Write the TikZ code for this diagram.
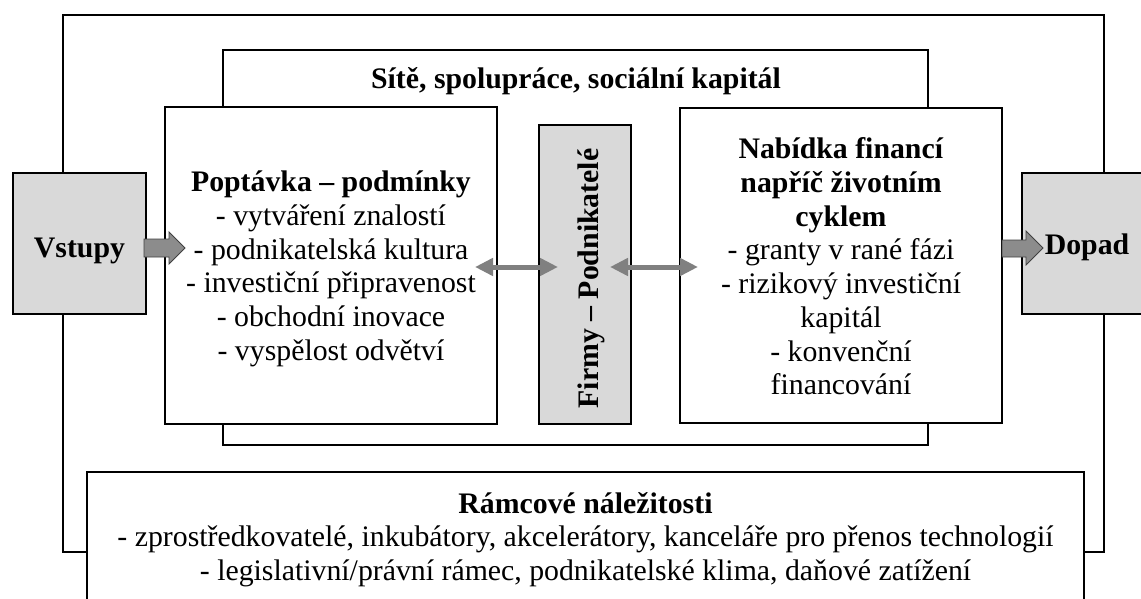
\documentclass[tikz,border=0pt]{standalone}
\usepackage{fontspec}
\setmainfont{Liberation Serif}
\usetikzlibrary{arrows.meta,calc}
\definecolor{boxgray}{HTML}{D9D9D9}
\definecolor{arrgray}{HTML}{8C8C8C}
\definecolor{dblgray}{HTML}{808080}
\begin{document}
\begin{tikzpicture}[x=1pt,y=-1pt,
  frame/.style={draw=black,line width=2.4pt,inner sep=0pt,outer sep=0pt,anchor=north west},
  wbox/.style={frame,fill=white},
  gbox/.style={frame,fill=boxgray},
  txt/.style={font=\fontsize{29.8}{33.7}\selectfont,align=center,inner sep=0pt},
  btxt/.style={font=\fontsize{29.8}{33.7}\selectfont\bfseries,align=center,inner sep=0pt},
  blockarrow/.style={fill=arrgray,draw=black!75,line width=0.8pt,line join=miter},
  dbl/.style={{Triangle[length=18pt,width=17pt]}-{Triangle[length=18pt,width=17pt]},line width=5pt,draw=dblgray}]
\useasboundingbox (0,0) rectangle (1141,599);
% frames
\node[frame,minimum width=1041pt,minimum height=537pt] (outer) at (63,15) {};
\node[frame,minimum width=705pt,minimum height=395pt] (site) at (223,50) {};
\node[wbox,minimum width=332pt,minimum height=317pt] (pop) at (165,107) {};
\node[gbox,minimum width=92pt,minimum height=299pt] (fir) at (539,125) {};
\node[wbox,minimum width=322pt,minimum height=315pt] (nab) at (680,108) {};
\node[wbox,minimum width=997pt,minimum height=160pt] (ram) at (87,472) {};
\node[gbox,minimum width=133pt,minimum height=141pt] (vst) at (13,173) {};
\node[gbox,minimum width=150pt,minimum height=141pt] (dop) at (1022,173) {};
% texts
\node[btxt] (sitt) at (576,81) {Sítě, spolupráce, sociální kapitál};
\node[txt] (popt) at (331,269) {\textbf{Poptávka – podmínky}\\- vytváření znalostí\\- podnikatelská kultura\\- investiční připravenost\\- obchodní inovace\\- vyspělost odvětví};
\node[txt] (nabt) at (841,266.5) {\textbf{Nabídka financí}\\\textbf{napříč životním}\\\textbf{cyklem}\\- granty v rané fázi\\- rizikový investiční\\kapitál\\- konvenční\\financování};
\node[txt] (ramt) at (585.5,539.7) {\textbf{Rámcové náležitosti}\\- zprostředkovatelé, inkubátory, akcelerátory, kanceláře pro přenos technologií\\- legislativní/právní rámec, podnikatelské klima, daňové zatížení};
\node[btxt] (vstt) at (79.5,250.5) {Vstupy};
\node[btxt] (dopt) at (1087,247.8) {Dopad};
\node[btxt,rotate=90] (firt) at (591,278.5) {Firmy – Podnikatelé};
% arrows
\draw[dbl] ($(pop.east)+(-22,1.5)$) -- ($(fir.west)+(19,-7.5)$);
\draw[dbl] ($(fir.east)+(-21,-7.5)$) -- ($(nab.west)+(18,1.5)$);
\draw[blockarrow] ($(vst.east)+(-2,-4.5)$) -- ++(25,0) -- ++(0,-7) -- ++(16,16) -- ++(-16,16) -- ++(0,-7) -- ++(-25,0) -- cycle;
\draw[blockarrow] ($(nab.east |- vst.east)+(0,-3.5)$) -- ++(24,0) -- ++(0,-9) -- ++(17,17) -- ++(-17,17) -- ++(0,-8) -- ++(-24,0) -- cycle;
\end{tikzpicture}
\end{document}
